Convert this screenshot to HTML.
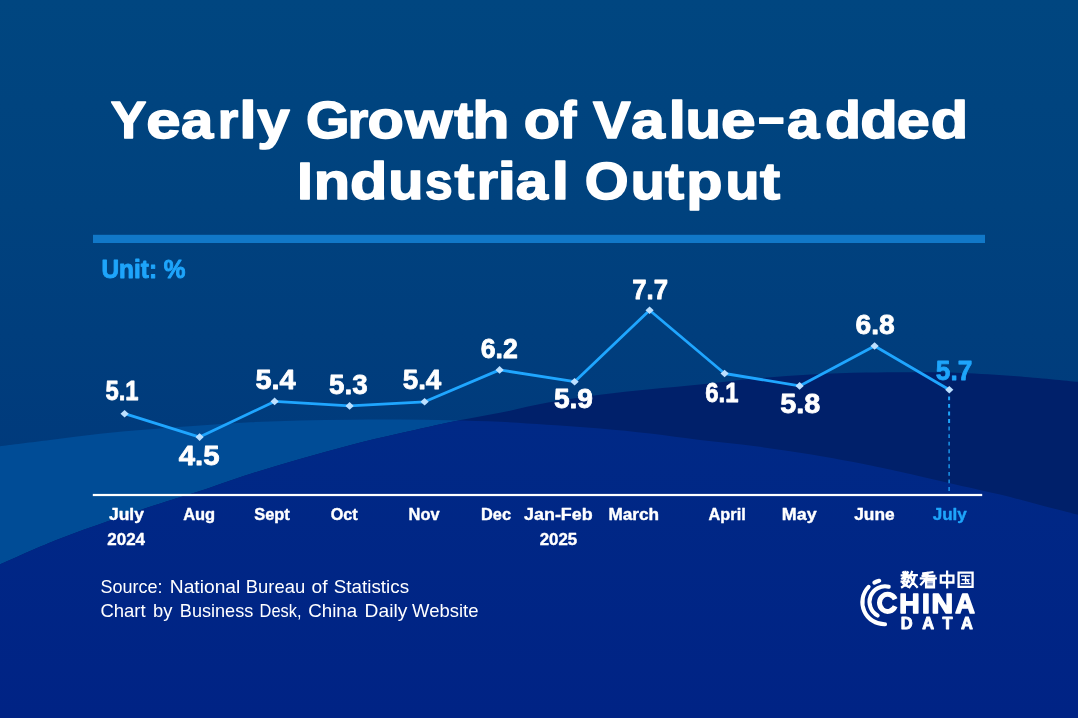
<!DOCTYPE html>
<html>
<head>
<meta charset="utf-8">
<title>Yearly Growth of Value-added Industrial Output</title>
<style>
html,body{margin:0;padding:0;background:#004580;}
body{width:1078px;height:718px;overflow:hidden;font-family:"Liberation Sans",sans-serif;}
svg{display:block;will-change:transform;}
text{font-family:"Liberation Sans",sans-serif;}
.t{font-weight:bold;fill:#fff;font-size:52px;stroke:#fff;stroke-width:1.5px;stroke-linejoin:round;}
.v{font-weight:bold;fill:#fff;font-size:27.6px;stroke:#fff;stroke-width:0.8px;stroke-linejoin:round;}
.vb{font-weight:bold;fill:#1ea5fb;font-size:27.6px;stroke:#1ea5fb;stroke-width:0.8px;stroke-linejoin:round;}
.m{font-weight:bold;fill:#fff;font-size:16.4px;stroke:#fff;stroke-width:0.4px;stroke-linejoin:round;}
.mb{font-weight:bold;fill:#1ea5fb;font-size:16.4px;stroke:#1ea5fb;stroke-width:0.4px;stroke-linejoin:round;}
.s{fill:#fff;font-size:17.7px;}
.u{font-weight:bold;fill:#1ea5fb;font-size:25px;stroke:#1ea5fb;stroke-width:0.9px;stroke-linejoin:round;}
</style>
</head>
<body>
<svg width="1078" height="718" viewBox="0 0 1078 718">
<defs>
<path id="waveB" d="M0.0,446.2 C8.3,445.2 33.3,442.1 50.0,440.0 C66.7,437.9 83.3,435.5 100.0,433.7 C116.7,431.9 133.3,430.6 150.0,429.2 C166.7,427.8 183.3,426.6 200.0,425.4 C216.7,424.2 233.3,423.0 250.0,422.2 C266.7,421.4 283.3,420.8 300.0,420.4 C316.7,420.0 333.3,419.8 350.0,419.7 C366.7,419.6 383.3,419.5 400.0,419.6 C416.7,419.7 433.3,419.8 450.0,420.2 C466.7,420.6 483.9,421.1 500.0,421.8 C516.1,422.6 530.1,423.6 546.8,424.7 C563.5,425.8 582.8,427.1 600.0,428.6 C617.2,430.1 633.3,431.7 650.0,433.6 C666.7,435.5 682.4,437.9 700.0,440.0 C717.6,442.1 737.2,443.9 755.7,446.3 C774.2,448.7 792.8,451.5 811.3,454.6 C829.8,457.7 852.2,461.9 867.0,464.8 C881.8,467.7 886.2,468.7 900.0,471.8 C913.8,474.9 933.3,479.4 950.0,483.2 C966.7,487.0 985.0,491.0 1000.0,494.6 C1015.0,498.2 1027.0,501.6 1040.0,505.0 C1053.0,508.4 1071.7,513.2 1078.0,514.8 L1078,718 L0,718 Z"/>
<path id="waveA" d="M0.0,564.4 C9.3,560.4 37.2,547.7 55.7,540.3 C74.2,532.9 92.8,526.4 111.3,519.9 C129.8,513.4 152.2,506.1 167.0,501.3 C181.8,496.5 186.2,495.6 200.0,491.0 C213.8,486.4 233.3,479.3 250.0,474.0 C266.7,468.7 283.3,463.8 300.0,459.0 C316.7,454.2 333.3,449.5 350.0,445.2 C366.7,440.9 382.3,437.3 400.0,433.3 C417.7,429.3 439.3,424.4 456.0,421.0 C472.7,417.6 484.9,415.8 500.0,412.8 C515.1,409.8 530.1,405.8 546.8,402.8 C563.5,399.8 582.8,397.1 600.0,394.8 C617.2,392.5 633.3,390.9 650.0,389.2 C666.7,387.5 682.4,386.3 700.0,384.5 C717.6,382.7 737.2,380.2 755.7,378.6 C774.2,377.0 792.8,375.6 811.3,374.6 C829.8,373.6 848.9,373.0 867.0,372.6 C885.1,372.2 904.2,372.1 920.0,372.2 C935.8,372.2 945.4,372.2 961.6,372.9 C977.8,373.6 997.6,374.7 1017.0,376.2 C1036.4,377.7 1067.8,380.9 1078.0,381.8 L1078,718 L0,718 Z"/>
<clipPath id="clipB"><use href="#waveB"/></clipPath>
<linearGradient id="bg" gradientUnits="userSpaceOnUse" x1="0" y1="0" x2="0" y2="460">
<stop offset="0" stop-color="#004680"/><stop offset="0.45" stop-color="#00427e"/><stop offset="1" stop-color="#003a7c"/>
</linearGradient>
<linearGradient id="fg" gradientUnits="userSpaceOnUse" x1="0" y1="420" x2="0" y2="718">
<stop offset="0" stop-color="#002986"/><stop offset="1" stop-color="#002385"/>
</linearGradient>
</defs>
<rect width="1078" height="718" fill="url(#bg)"/>
<use href="#waveB" fill="#004c96"/>
<use href="#waveA" fill="#00206a"/>
<use href="#waveA" fill="url(#fg)" clip-path="url(#clipB)"/>

<text class="t" transform="translate(110.76,138.00) scale(1.0274,1)">Y</text>
<text class="t" transform="translate(146.18,138.00) scale(1.1875,1)">e</text>
<text class="t" transform="translate(181.04,138.00) scale(1.1154,1)">a</text>
<text class="t" transform="translate(217.78,138.00) scale(1.0159,1)">r</text>
<text class="t" transform="translate(239.23,138.00) scale(1.2044,1)">l</text>
<text class="t" transform="translate(257.19,138.00) scale(1.1233,1)">y</text>
<text class="t" transform="translate(305.91,138.00) scale(1.0768,1)">G</text>
<text class="t" transform="translate(347.78,138.00) scale(1.0159,1)">r</text>
<text class="t" transform="translate(367.53,138.00) scale(1.1438,1)">o</text>
<text class="t" transform="translate(404.96,138.00) scale(1.1753,1)">w</text>
<text class="t" transform="translate(454.23,138.00) scale(1.0999,1)">t</text>
<text class="t" transform="translate(472.23,138.00) scale(1.1701,1)">h</text>
<text class="t" transform="translate(523.83,138.00) scale(1.1438,1)">o</text>
<text class="t" transform="translate(560.07,138.00) scale(0.9485,1)">f</text>
<text class="t" transform="translate(593.03,138.00) scale(1.0882,1)">V</text>
<text class="t" transform="translate(630.99,138.00) scale(1.1702,1)">a</text>
<text class="t" transform="translate(668.53,138.00) scale(1.2044,1)">l</text>
<text class="t" transform="translate(685.53,138.00) scale(1.1198,1)">u</text>
<text class="t" transform="translate(721.06,138.00) scale(1.1987,1)">e</text>
<text class="t" transform="translate(787.03,138.00) scale(1.1188,1)">a</text>
<text class="t" transform="translate(824.93,138.00) scale(1.1371,1)">d</text>
<text class="t" transform="translate(860.27,138.00) scale(1.1804,1)">d</text>
<text class="t" transform="translate(896.84,138.00) scale(1.1424,1)">e</text>
<text class="t" transform="translate(930.77,138.00) scale(1.1804,1)">d</text>
<text class="t" transform="translate(297.10,198.80) scale(1.1012,1)">I</text>
<text class="t" transform="translate(313.64,198.80) scale(1.1424,1)">n</text>
<text class="t" transform="translate(349.97,198.80) scale(1.1768,1)">d</text>
<text class="t" transform="translate(388.16,198.80) scale(1.1086,1)">u</text>
<text class="t" transform="translate(425.07,198.80) scale(0.9562,1)">s</text>
<text class="t" transform="translate(454.43,198.80) scale(1.1455,1)">t</text>
<text class="t" transform="translate(476.77,198.80) scale(1.0558,1)">r</text>
<text class="t" transform="translate(497.40,198.80) scale(1.2855,1)">i</text>
<text class="t" transform="translate(515.84,198.80) scale(1.1154,1)">a</text>
<text class="t" transform="translate(551.86,198.80) scale(1.1929,1)">l</text>
<text class="t" transform="translate(584.80,198.80) scale(1.0842,1)">O</text>
<text class="t" transform="translate(630.65,198.80) scale(1.0710,1)">u</text>
<text class="t" transform="translate(665.03,198.80) scale(1.1056,1)">t</text>
<text class="t" transform="translate(686.35,198.80) scale(1.1407,1)">p</text>
<text class="t" transform="translate(725.55,198.80) scale(1.0710,1)">u</text>
<text class="t" transform="translate(759.93,198.80) scale(1.1626,1)">t</text>
<rect x="759" y="117.2" width="24.5" height="6.8" rx="0.8" fill="#fff"/>
<rect x="93" y="234.8" width="892" height="8.2" fill="#1178c8"/>
<text class="u" x="101.5" y="277.5" textLength="84.0" lengthAdjust="spacingAndGlyphs">Unit: %</text>
<rect x="92.8" y="493.9" width="889.4" height="2.2" fill="#fff"/>
<line x1="949.1" y1="396.4" x2="949.1" y2="426.6" stroke="#1ea5fb" stroke-width="2" stroke-dasharray="3.9 3.65"/>
<line x1="949.1" y1="426.6" x2="949.1" y2="492" stroke="#1ea5fb" stroke-width="1.3" stroke-dasharray="3.9 3.65"/>
<polyline fill="none" stroke="#1fa6ff" stroke-width="2.8" stroke-linejoin="round" points="124.6,413.7 199.6,437.1 274.6,401.4 349.6,405.9 424.6,401.8 499.6,369.9 574.6,381.7 649.6,310.3 724.6,373.5 799.6,385.9 874.6,346.0 949.3,389.7"/>
<g fill="#bde0ff"><path d="M124.6,409.9l4.1,3.8l-4.1,3.8l-4.1,-3.8z"/><path d="M199.6,433.3l4.1,3.8l-4.1,3.8l-4.1,-3.8z"/><path d="M274.6,397.6l4.1,3.8l-4.1,3.8l-4.1,-3.8z"/><path d="M349.6,402.1l4.1,3.8l-4.1,3.8l-4.1,-3.8z"/><path d="M424.6,398.0l4.1,3.8l-4.1,3.8l-4.1,-3.8z"/><path d="M499.6,366.1l4.1,3.8l-4.1,3.8l-4.1,-3.8z"/><path d="M574.6,377.9l4.1,3.8l-4.1,3.8l-4.1,-3.8z"/><path d="M649.6,306.5l4.1,3.8l-4.1,3.8l-4.1,-3.8z"/><path d="M724.6,369.7l4.1,3.8l-4.1,3.8l-4.1,-3.8z"/><path d="M799.6,382.1l4.1,3.8l-4.1,3.8l-4.1,-3.8z"/><path d="M874.6,342.2l4.1,3.8l-4.1,3.8l-4.1,-3.8z"/><path d="M949.3,385.9l4.1,3.8l-4.1,3.8l-4.1,-3.8z"/></g>
<text class="v" x="105.4" y="400.2" textLength="33.1" lengthAdjust="spacingAndGlyphs">5.1</text>
<text class="v" x="178.7" y="464.5" textLength="40.8" lengthAdjust="spacingAndGlyphs">4.5</text>
<text class="v" x="255.4" y="388.6" textLength="40.2" lengthAdjust="spacingAndGlyphs">5.4</text>
<text class="v" x="329.0" y="393.8" textLength="38.6" lengthAdjust="spacingAndGlyphs">5.3</text>
<text class="v" x="402.7" y="388.7" textLength="38.6" lengthAdjust="spacingAndGlyphs">5.4</text>
<text class="v" x="480.7" y="358.4" textLength="37.1" lengthAdjust="spacingAndGlyphs">6.2</text>
<text class="v" x="553.9" y="408.2" textLength="39.1" lengthAdjust="spacingAndGlyphs">5.9</text>
<text class="v" x="632.2" y="298.7" textLength="35.8" lengthAdjust="spacingAndGlyphs">7.7</text>
<text class="v" x="705.3" y="401.7" textLength="33.2" lengthAdjust="spacingAndGlyphs">6.1</text>
<text class="v" x="780.2" y="413.2" textLength="40.0" lengthAdjust="spacingAndGlyphs">5.8</text>
<text class="v" x="855.5" y="333.5" textLength="39.2" lengthAdjust="spacingAndGlyphs">6.8</text>
<text class="vb" x="935.8" y="379.5" textLength="36.5" lengthAdjust="spacingAndGlyphs">5.7</text>
<text class="m" x="109.0" y="519.7" textLength="34.9" lengthAdjust="spacingAndGlyphs">July</text>
<text class="m" x="107.3" y="544.8" textLength="37.7" lengthAdjust="spacingAndGlyphs">2024</text>
<text class="m" x="183.2" y="519.7" textLength="32.0" lengthAdjust="spacingAndGlyphs">Aug</text>
<text class="m" x="254.2" y="519.7" textLength="35.6" lengthAdjust="spacingAndGlyphs">Sept</text>
<text class="m" x="330.7" y="519.7" textLength="27.0" lengthAdjust="spacingAndGlyphs">Oct</text>
<text class="m" x="408.6" y="519.7" textLength="30.9" lengthAdjust="spacingAndGlyphs">Nov</text>
<text class="m" x="481.0" y="519.7" textLength="30.0" lengthAdjust="spacingAndGlyphs">Dec</text>
<text class="m" x="524.1" y="519.7" textLength="68.5" lengthAdjust="spacingAndGlyphs">Jan-Feb</text>
<text class="m" x="539.7" y="544.8" textLength="37.5" lengthAdjust="spacingAndGlyphs">2025</text>
<text class="m" x="608.5" y="519.7" textLength="50.6" lengthAdjust="spacingAndGlyphs">March</text>
<text class="m" x="708.6" y="519.7" textLength="37.1" lengthAdjust="spacingAndGlyphs">April</text>
<text class="m" x="781.8" y="519.7" textLength="34.8" lengthAdjust="spacingAndGlyphs">May</text>
<text class="m" x="854.2" y="519.7" textLength="40.4" lengthAdjust="spacingAndGlyphs">June</text>
<text class="mb" x="932.7" y="519.7" textLength="34.2" lengthAdjust="spacingAndGlyphs">July</text>
<text class="s" x="100.4" y="592.9" textLength="62.0" lengthAdjust="spacingAndGlyphs">Source:</text>
<text class="s" x="169.8" y="592.9" textLength="70.5" lengthAdjust="spacingAndGlyphs">National</text>
<text class="s" x="245.8" y="592.9" textLength="59.4" lengthAdjust="spacingAndGlyphs">Bureau</text>
<text class="s" x="311.5" y="592.9" textLength="16.0" lengthAdjust="spacingAndGlyphs">of</text>
<text class="s" x="333.8" y="592.9" textLength="75.3" lengthAdjust="spacingAndGlyphs">Statistics</text>
<text class="s" x="100.4" y="617.0" textLength="45.3" lengthAdjust="spacingAndGlyphs">Chart</text>
<text class="s" x="153.0" y="617.0" textLength="19.4" lengthAdjust="spacingAndGlyphs">by</text>
<text class="s" x="179.8" y="617.0" textLength="73.5" lengthAdjust="spacingAndGlyphs">Business</text>
<text class="s" x="259.6" y="617.0" textLength="41.9" lengthAdjust="spacingAndGlyphs">Desk,</text>
<text class="s" x="308.2" y="617.0" textLength="49.0" lengthAdjust="spacingAndGlyphs">China</text>
<text class="s" x="364.6" y="617.0" textLength="42.7" lengthAdjust="spacingAndGlyphs">Daily</text>
<text class="s" x="412.1" y="617.0" textLength="66.4" lengthAdjust="spacingAndGlyphs">Website</text>
<g id="logo" fill="none" stroke="#fff" stroke-linecap="round">
<path d="M868.60,586.85 A22.10,22.10 0 0 0 885.04,624.29" stroke-width="4.1"/>
<path d="M874.36,582.56 A22.10,22.10 0 0 1 879.23,580.74" stroke-width="4.1"/>
<path d="M888.70,586.72 A15.57,15.57 0 0 0 877.64,615.54" stroke-width="4.1"/>
</g>
<g font-size="27.2" font-weight="bold" fill="#fff" stroke="#fff" stroke-width="1.5" stroke-linejoin="round">
<path d="M895.19,599.35 A8.20,8.60 0 1 0 895.19,606.35" fill="none" stroke="#fff" stroke-width="5.0" stroke-linecap="butt"/>
<text x="899.2" y="612.9" textLength="20.4" lengthAdjust="spacingAndGlyphs">H</text>
<text x="922" y="612.9" textLength="7.8" lengthAdjust="spacingAndGlyphs">I</text>
<text x="931.4" y="612.9" textLength="21.6" lengthAdjust="spacingAndGlyphs">N</text>
<text x="955.2" y="612.9" textLength="19.6" lengthAdjust="spacingAndGlyphs">A</text>
</g>
<g font-size="16.4" font-weight="bold" fill="#fff" text-anchor="middle" stroke="#fff" stroke-width="0.9" stroke-linejoin="round">
<text x="906.6" y="629.3">D</text><text x="928.2" y="629.3">A</text><text x="947.4" y="629.3">T</text><text x="966.8" y="629.3">A</text>
</g>
<g fill="none" stroke="#fff" stroke-linecap="square" stroke-linejoin="miter">
<path transform="translate(901.30,571.40) scale(0.1580,0.1630)" d="M12,6 L18,17 M41,6 L35,17 M3,24 L49,24 M26,3 L26,46 M24,27 L5,44 M28,27 L47,41 M21,48 L11,73 L42,93 M41,56 L33,78 L5,96 M2,63 L50,63 M67,3 L55,36 M62,23 L98,23 M86,25 L76,62 L52,96 M62,42 L77,72 L99,95" stroke-width="14.33"/>
<path transform="translate(920.40,571.40) scale(0.1580,0.1630)" d="M76,5 L18,13 M14,27 L88,27 M3,43 L97,43 M48,10 L36,44 L4,80 M36,56 L86,56 L86,97 L36,97 L36,56" stroke-width="14.33"/>
<path transform="translate(920.40,571.40) scale(0.1580,0.1630)" d="M36,70 L86,70 M36,84 L86,84" stroke-width="8.10"/>
<path transform="translate(939.20,571.40) scale(0.1580,0.1630)" d="M10,26 L90,26 L90,68 L10,68 L10,26 M50,2 L50,98" stroke-width="14.33"/>
<path transform="translate(957.30,571.40) scale(0.1660,0.1630)" d="M8,7 L92,7 L92,95 L8,95 L8,7" stroke-width="13.98"/>
<path transform="translate(957.30,571.40) scale(0.1660,0.1630)" d="M27,28 L73,28 M31,51 L69,51 M25,75 L75,75 M50,28 L50,75 M62,58 L67,65" stroke-width="9.12"/>
</g>
</svg>
</body>
</html>
